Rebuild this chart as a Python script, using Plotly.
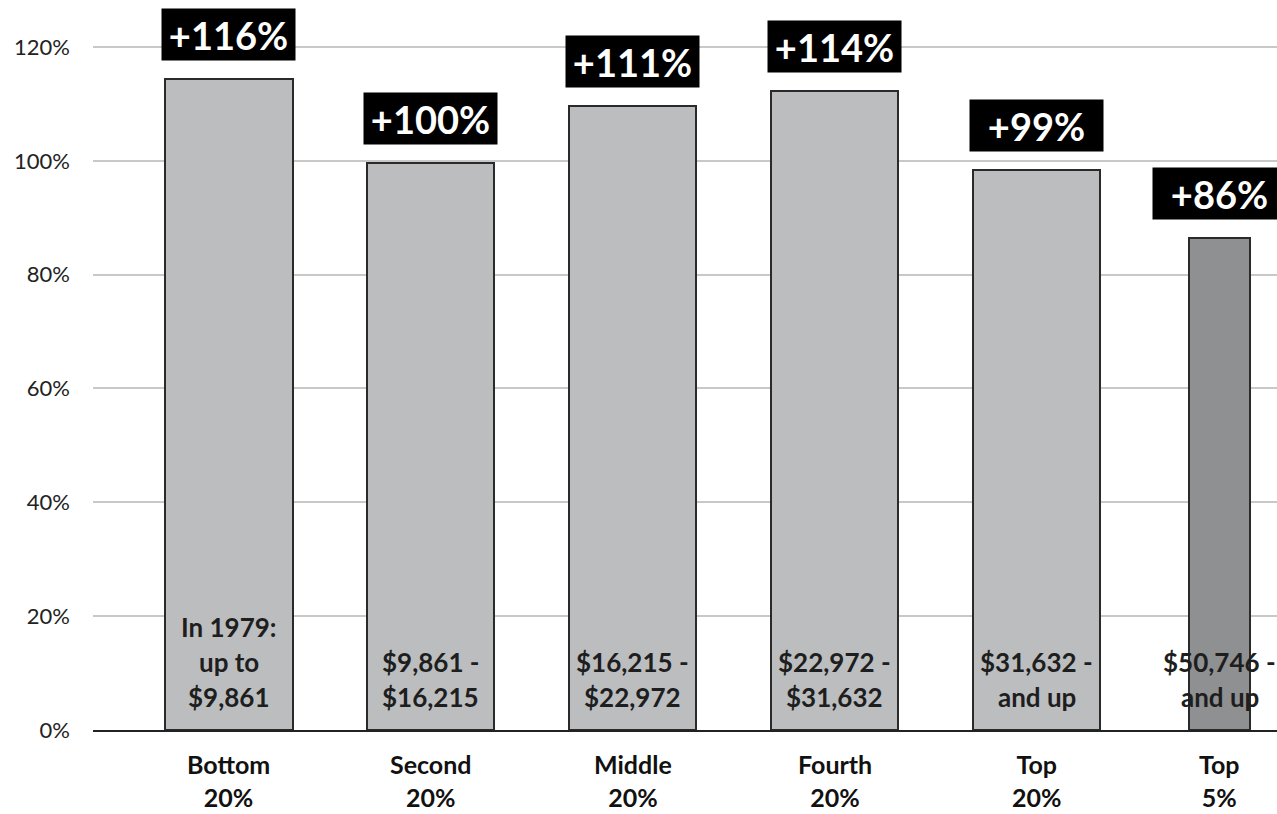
import plotly.graph_objects as go

categories = ["Bottom<br>20%", "Second<br>20%", "Middle<br>20%", "Fourth<br>20%", "Top<br>20%", "Top<br>5%"]
bar_values = [114.3, 99.6, 109.6, 112.3, 98.3, 86.4]
change_labels = ["+116%", "+100%", "+111%", "+114%", "+99%", "+86%"]
range_labels = ["In 1979:<br>up to<br>$9,861", "$9,861 -<br>$16,215", "$16,215 -<br>$22,972",
                "$22,972 -<br>$31,632", "$31,632 -<br>and up", "$50,746 -<br>and up"]
y_ticks = [0, 20, 40, 60, 80, 100, 120]
y_tick_text = ["0%", "20%", "40%", "60%", "80%", "100%", "120%"]

FONT = "Lato, Roboto, sans-serif"
bar_colors = ["#bbbdbf"] * 5 + ["#8e9092"]
widths = [0.63] * 5 + [0.30]
offsets = [-0.315] * 5 + [-0.244]
xshifts = [0] * 5 + [-19]

fig = go.Figure()
fig.add_trace(go.Bar(
    x=categories, y=bar_values,
    width=widths, offset=offsets,
    marker=dict(color=bar_colors, line=dict(color="#2a2a2a", width=2)),
    hoverinfo="skip",
))

for i, cat in enumerate(categories):
    # change label box above bar
    fig.add_annotation(
        x=cat, y=bar_values[i], xref="x", yref="y",
        text="<b>" + change_labels[i] + "</b>",
        showarrow=False, yanchor="bottom", yshift=18, xshift=xshifts[i],
        font=dict(family=FONT, size=38, color="white"),
        bgcolor="black", width=129, height=47, borderpad=2, valign="middle",
    )
    # income range text inside bar
    lines = range_labels[i].split("<br>")
    for j, line in enumerate(reversed(lines)):
        fig.add_annotation(
            x=cat, y=0, xref="x", yref="y",
            text="<b>" + line + "</b>",
            showarrow=False, yanchor="middle", yshift=33 + j * 35, xshift=xshifts[i],
            font=dict(family=FONT, size=26, color="#1e1e1e"),
        )
    # category label below axis
    fig.add_annotation(
        x=cat, y=0, xref="x", yref="y",
        text="<b>" + cat + "</b>",
        showarrow=False, yanchor="top", yshift=-17, xshift=xshifts[i],
        font=dict(family=FONT, size=25, color="#111111"),
    )

fig.update_layout(
    width=1277, height=814,
    margin=dict(l=93, r=0, t=0, b=84),
    paper_bgcolor="white", plot_bgcolor="white",
    showlegend=False,
    bargap=0,
)
fig.update_xaxes(
    type="category", range=[-0.673, 5.19],
    showgrid=False, showline=True, linecolor="#222222", linewidth=2,
    showticklabels=False, ticks="", fixedrange=True,
)
fig.update_yaxes(
    range=[0, 128.25], tickvals=y_ticks, ticktext=y_tick_text,
    showgrid=True, gridcolor="#c8c8c8", gridwidth=2, zeroline=False,
    tickfont=dict(family=FONT, size=22, color="#222222"),
    ticklabelstandoff=22, fixedrange=True,
)

fig.write_html("out.html", config={"displayModeBar": False},
               post_script="document.body.style.margin='0';")
